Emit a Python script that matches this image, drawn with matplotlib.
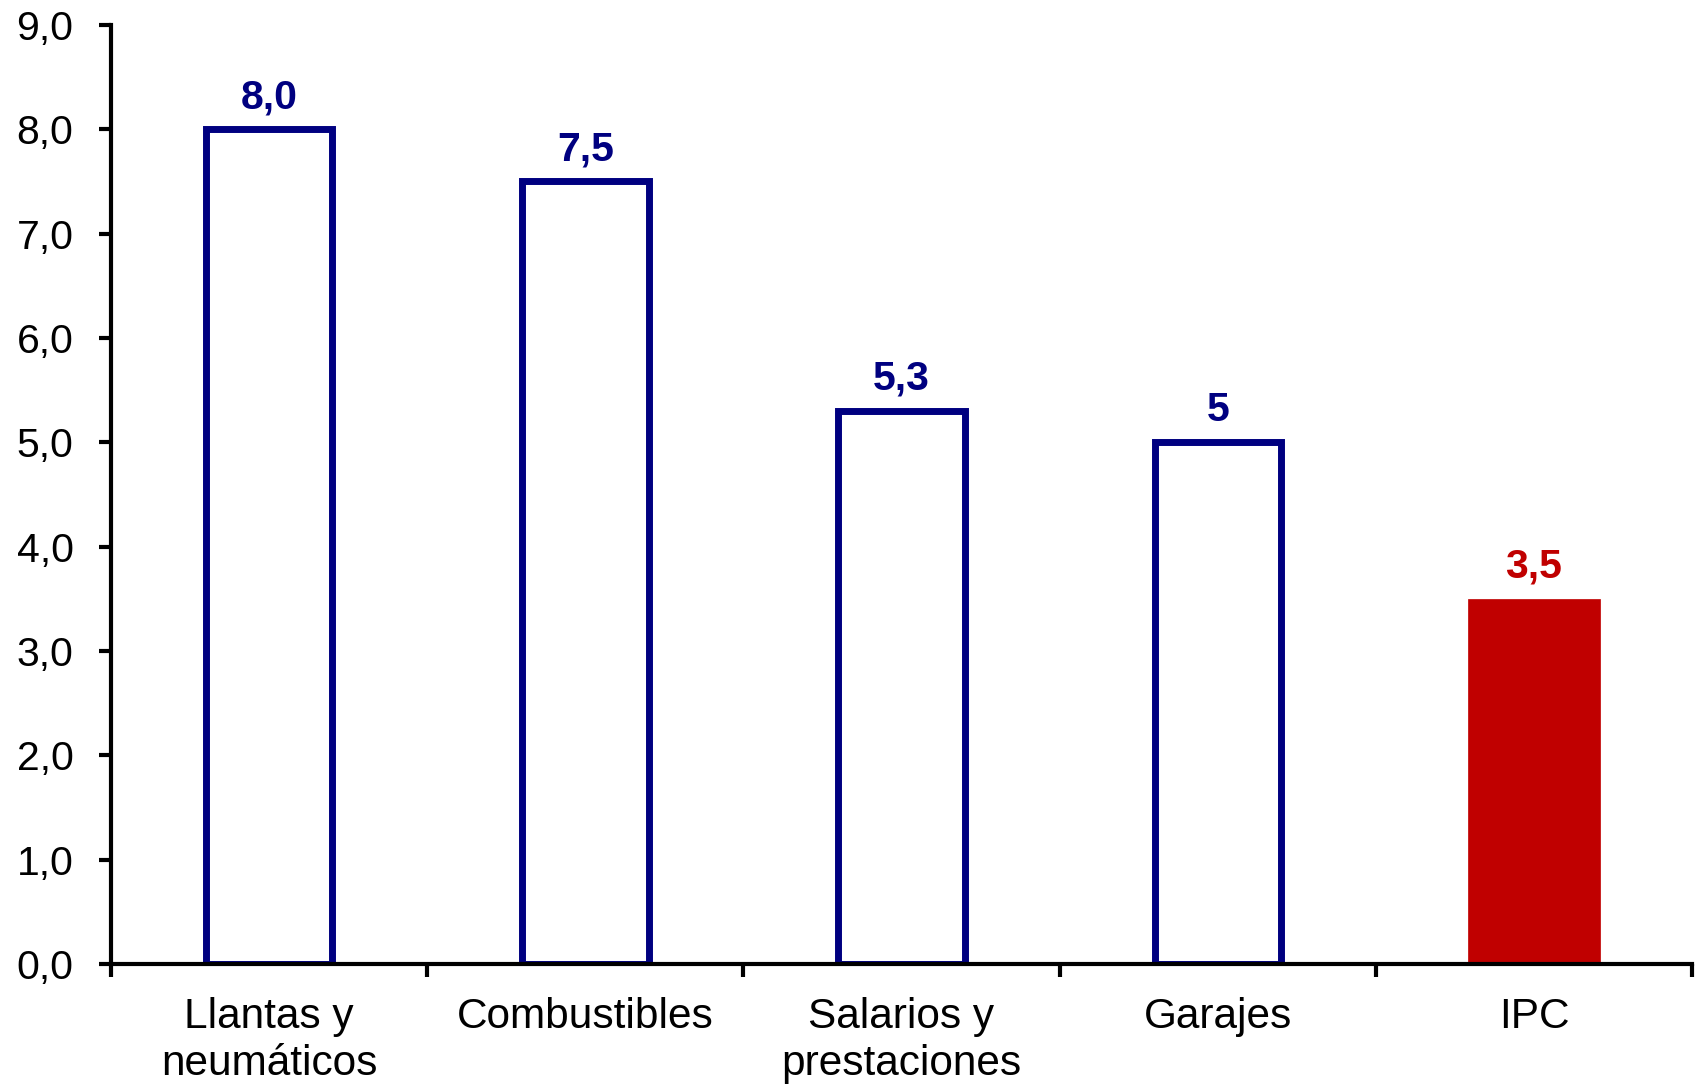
import matplotlib.pyplot as plt
import numpy as np

plt.rcParams['font.family'] = ['Liberation Sans', 'DejaVu Sans']

# Data
categories = ["Llantas y\nneumáticos", "Combustibles", "Salarios y\nprestaciones", "Garajes", "IPC"]
values = [8.0, 7.5, 5.3, 5.0, 3.5]
value_labels = ["8,0", "7,5", "5,3", "5", "3,5"]
y_ticks = [0, 1, 2, 3, 4, 5, 6, 7, 8, 9]
y_tick_labels = ["0,0", "1,0", "2,0", "3,0", "4,0", "5,0", "6,0", "7,0", "8,0", "9,0"]

navy = '#000080'
red = '#C00000'

fig = plt.figure(figsize=(16.98, 10.85), dpi=100)
ax = fig.add_axes([0.0654, 0.1115, 0.9311, 0.8655])

x = np.arange(len(categories))

# outlined bars for the components, solid red bar for IPC
for i, (v, lab) in enumerate(zip(values, value_labels)):
    if categories[i] == "IPC":
        ax.bar(x[i], v, width=0.42, color=red, edgecolor=red, linewidth=0.5, zorder=2)
        col = red
    else:
        ax.bar(x[i], v, width=0.40, facecolor='white', edgecolor=navy, linewidth=5, zorder=2)
        col = navy
    ax.annotate(lab, (x[i], v), xytext=(0, 9.5), textcoords='offset points',
                ha='center', va='bottom', fontsize=29.5, fontweight='bold', color=col)

ax.set_xlim(-0.5, len(categories) - 0.5)
ax.set_ylim(0, 9)

ax.set_yticks(y_ticks)
ax.set_yticklabels(y_tick_labels)

ax.set_xticks(np.arange(-0.5, len(categories), 1.0))
ax.set_xticklabels([])
ax.set_xticks(x, minor=True)
ax.set_xticklabels(categories, minor=True, fontsize=30.5, linespacing=1.22)

ax.tick_params(axis='y', direction='out', length=9, width=3, labelsize=29.5, pad=18)
ax.tick_params(axis='x', which='major', direction='out', length=9, width=3)
ax.tick_params(axis='x', which='minor', length=0, pad=24)

for s in ['top', 'right']:
    ax.spines[s].set_visible(False)
for s in ['left', 'bottom']:
    ax.spines[s].set_linewidth(3)
ax.spines['bottom'].set_zorder(3)

fig.savefig('out.png', dpi=100)
